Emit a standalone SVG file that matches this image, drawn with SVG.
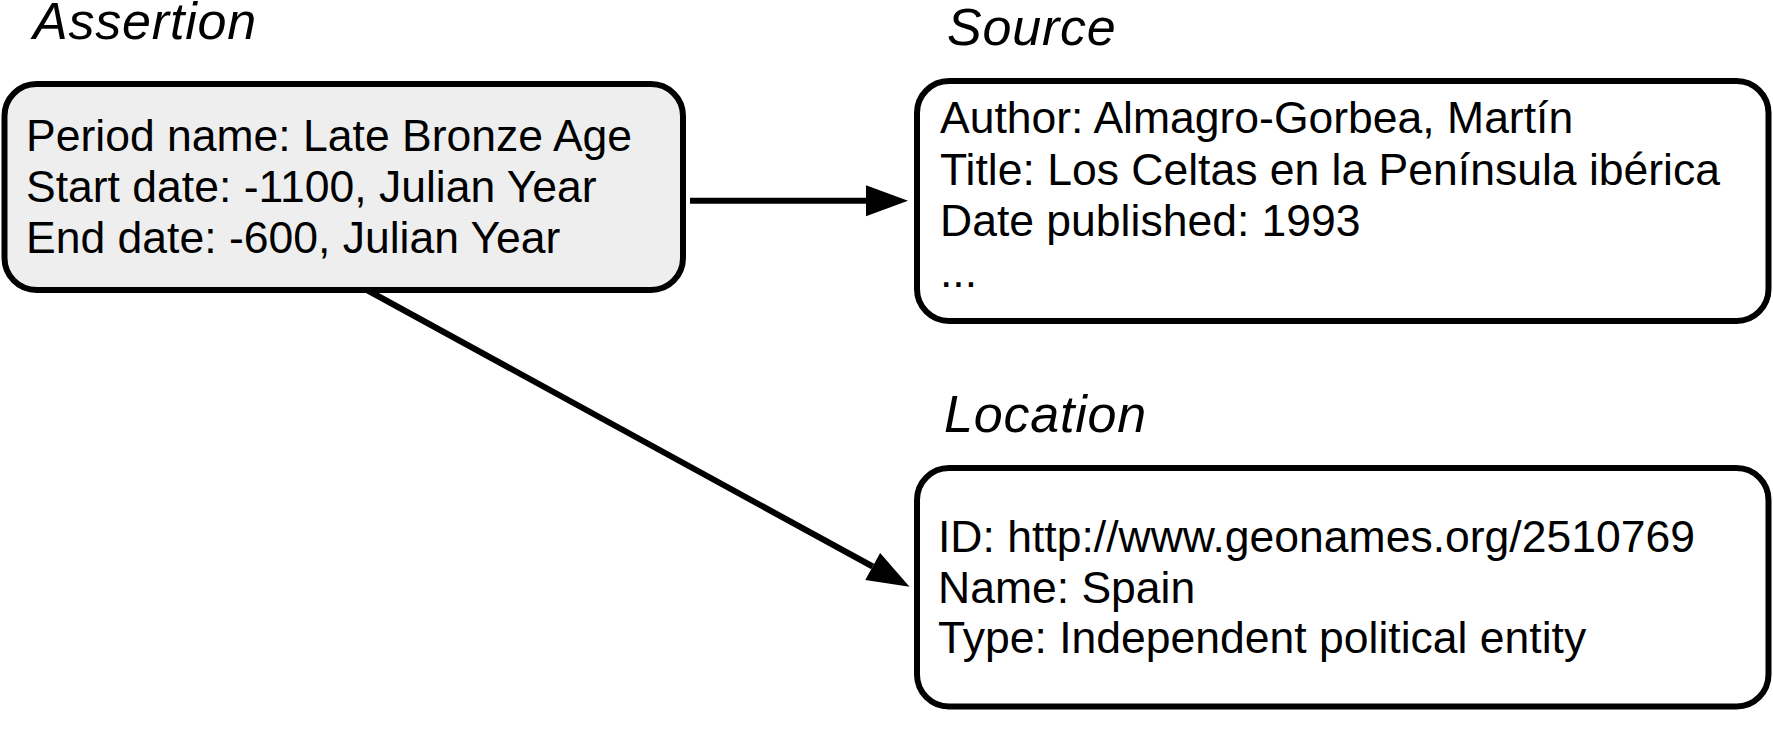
<svg xmlns="http://www.w3.org/2000/svg" width="1773" height="749" viewBox="0 0 1773 749">
<style>
.box{stroke:#000;stroke-width:6;}
.body{font-family:"Liberation Sans",Arial,sans-serif;font-size:44.5px;fill:#000;}
.label{font-family:"Liberation Sans",Arial,sans-serif;font-size:52px;letter-spacing:0.8px;font-style:italic;fill:#000;}
.conn{stroke:#000;stroke-width:6;fill:none;}
</style>
<defs>
<marker id="arrow" markerUnits="userSpaceOnUse" markerWidth="43" markerHeight="32" refX="0" refY="15.5" orient="auto" overflow="visible">
<path d="M0,0 L42,15.5 L0,31 Z" fill="#000"/>
</marker>
</defs>
<rect width="1773" height="749" fill="#fff"/>
<g id="connectors">
<line class="conn" x1="690" y1="200.7" x2="866" y2="200.7" marker-end="url(#arrow)"/>
<line class="conn" x1="366" y1="289.5" x2="872.7" y2="566.5" marker-end="url(#arrow)"/>
</g>
<g id="assertion">
<text class="label" x="33" y="39">Assertion</text>
<rect class="box" x="4.5" y="84" width="678.5" height="206" rx="32" ry="32" fill="#eeeeee"/>
<text class="body" x="26" y="150.5">Period name: Late Bronze Age</text>
<text class="body" x="26" y="201.5">Start date: -1100, Julian Year</text>
<text class="body" x="26" y="253">End date: -600, Julian Year</text>
</g>
<g id="source">
<text class="label" x="947" y="45">Source</text>
<rect class="box" x="917" y="81" width="851.5" height="240" rx="32" ry="32" fill="#fff"/>
<text class="body" x="940" y="133.3">Author: Almagro-Gorbea, Martín</text>
<text class="body" x="940" y="185">Title: Los Celtas en la Península ibérica</text>
<text class="body" x="940" y="235.5">Date published: 1993</text>
<text class="body" x="940" y="286.7">...</text>
</g>
<g id="location">
<text class="label" x="944" y="431.7">Location</text>
<rect class="box" x="917" y="468" width="851.5" height="238.5" rx="32" ry="32" fill="#fff"/>
<text class="body" x="938" y="551.7">ID: http://www.geonames.org/2510769</text>
<text class="body" x="938" y="603">Name: Spain</text>
<text class="body" x="938" y="653.3">Type: Independent political entity</text>
</g>
</svg>
